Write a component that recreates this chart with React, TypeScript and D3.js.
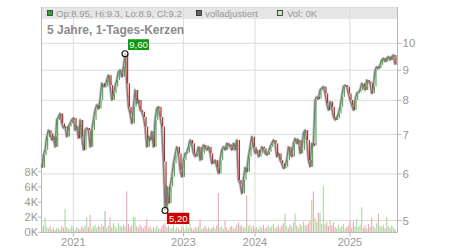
import React from 'react';
import * as d3 from 'd3';

// Daily-ish closes (sampled), index based x axis
const closes: number[] = [
  6.15, 6.45, 6.59, 6.93, 7.12, 7.03, 6.85, 6.94, 6.67, 7.41,
  7.50, 7.60, 7.31, 7.18, 7.22, 6.94, 7.22, 7.31, 7.41, 7.47,
  7.12, 7.22, 6.90, 7.41, 6.94, 6.59, 7.12, 7.18, 7.12, 6.67,
  7.12, 7.41, 7.70, 7.86, 7.75, 8.01, 8.55, 8.45, 8.45, 8.66,
  8.83, 8.49, 8.01, 8.22, 8.44, 8.66, 8.95, 9.01, 8.77, 9.12,
  9.60, 8.55, 7.80, 7.60, 7.31, 7.80, 8.33, 7.91, 8.01, 7.70,
  7.65, 7.50, 7.22, 6.67, 6.94, 6.85, 7.08, 6.67, 7.41, 7.75,
  7.80, 7.50, 7.22, 6.30, 5.20, 5.71, 5.35, 5.71, 5.93, 6.25,
  6.46, 6.67, 6.50, 6.09, 5.93, 6.33, 6.50, 6.52, 6.67, 6.85,
  6.76, 6.50, 6.42, 6.50, 6.67, 6.33, 6.50, 6.72, 6.67, 6.59,
  6.67, 6.50, 6.25, 6.27, 6.33, 6.17, 6.01, 6.33, 6.59, 6.67,
  6.59, 6.76, 6.74, 6.67, 6.59, 6.76, 6.59, 6.85, 5.86, 5.78,
  5.56, 5.86, 6.15, 6.05, 6.42, 6.67, 6.94, 6.67, 6.50, 6.59,
  6.42, 6.50, 6.67, 6.63, 6.50, 6.46, 6.54, 6.67, 6.76, 6.85,
  6.76, 6.42, 6.50, 6.33, 6.25, 6.13, 6.17, 6.33, 6.67, 6.50,
  6.42, 6.76, 6.89, 6.76, 6.85, 6.50, 6.59, 7.03, 7.12, 6.85,
  6.33, 6.17, 6.76, 6.70, 8.01, 8.11, 8.05, 8.33, 8.39, 8.44,
  8.22, 7.91, 7.70, 7.96, 7.80, 7.50, 7.41, 7.46, 7.60, 7.80,
  8.11, 8.44, 8.49, 8.44, 8.22, 8.01, 7.86, 7.70, 8.01, 8.22,
  8.27, 8.33, 8.55, 8.44, 8.33, 8.66, 8.61, 8.55, 8.22, 8.44,
  9.01, 9.12, 9.07, 9.19, 9.37, 9.43, 9.31, 9.43, 9.49, 9.37,
  9.49, 9.55, 9.20,
];
const firstOpen = 6.35;

// Volume in thousands
const volumes: number[] = [
  0.6, 0.9, 1.9, 0.7, 0.5, 0.8, 0.4, 0.7, 0.3, 0.6,
  0.5, 0.4, 0.8, 0.6, 3.1, 0.7, 0.4, 0.5, 0.9, 0.6,
  0.3, 0.7, 0.5, 0.4, 0.8, 0.6, 0.9, 2.0, 0.7, 2.3,
  0.5, 0.8, 1.0, 0.6, 0.9, 0.7, 1.1, 0.8, 2.8, 0.6,
  0.9, 2.0, 0.7, 1.2, 0.8, 0.5, 1.2, 0.9, 0.7, 1.0,
  0.8, 5.4, 1.1, 0.7, 0.9, 2.0, 2.0, 0.8, 0.6, 1.0,
  0.7, 0.5, 0.9, 1.75, 0.6, 0.8, 0.4, 0.7, 0.5, 0.9,
  0.6, 0.4, 0.8, 1.0, 1.2, 0.7, 0.9, 0.5, 0.6, 1.0,
  0.4, 0.7, 0.5, 0.3, 0.8, 0.6, 0.4, 0.9, 0.5, 1.1,
  0.6, 0.3, 0.7, 0.5, 0.8, 1.7, 0.4, 0.6, 0.9, 0.5,
  0.7, 0.4, 0.6, 0.8, 0.5, 0.9, 5.2, 0.6, 0.8, 0.4,
  1.5, 0.6, 0.3, 0.7, 0.9, 0.5, 0.6, 1.0, 1.3, 0.8,
  0.9, 0.6, 0.7, 4.9, 0.8, 1.0, 0.6, 0.9, 0.5, 0.7,
  0.4, 0.8, 0.6, 1.0, 0.5, 0.7, 0.9, 0.6, 0.8, 1.1,
  0.5, 0.7, 1.0, 0.6, 0.9, 1.2, 2.5, 0.8, 0.6, 1.0,
  0.7, 1.3, 2.5, 0.9, 0.6, 1.1, 0.8, 1.4, 1.0, 0.9,
  1.2, 1.5, 4.3, 5.4, 1.9, 1.3, 2.6, 2.6, 1.1, 6.1,
  1.0, 1.4, 0.8, 1.6, 0.9, 1.3, 0.7, 0.5, 1.0, 0.6,
  0.8, 1.1, 0.5, 0.7, 0.9, 1.5, 0.6, 1.4, 0.8, 1.8,
  0.7, 1.0, 3.3, 0.6, 0.9, 0.5, 1.1, 0.7, 1.9, 0.8,
  0.6, 1.2, 2.5, 0.9, 0.7, 1.0, 0.5, 2.0, 0.8, 0.6,
  0.9, 0.7, 0.4,
];

const yearLabels = ['2021', '2023', '2024', '2025'];
const yearStartIndex = [19, 85, 128, 185];
const priceTicks = [5, 6, 7, 8, 9, 10];
const volumeTicks = [0, 2, 4, 6, 8];
const titleText = '5 Jahre, 1-Tages-Kerzen';
const legendLabels = ['Op:8.95, Hi:9.3, Lo:8.9, Cl:9.2', 'volladjustiert', 'Vol: 0K'];

const FONT = '"Liberation Sans", Arial, sans-serif';

export default function App() {
  const W = 450, H = 250;
  const left = 41, right = 397.5, top = 7, bottom = 232.5;

  const x = d3.scaleLinear().domain([0, closes.length - 1]).range([41.7, 395]);
  const y = d3.scaleLog().domain([5, 10]).range([220.5, 43.3]);
  const yv = d3.scaleLinear().domain([0, 8]).range([232.3, 171.7]);

  const opens = closes.map((c, i) => (i === 0 ? firstOpen : closes[i - 1]));
  const dir = closes.map((c, i) => (c > opens[i] ? 1 : c < opens[i] ? -1 : 0));

  const line = d3.line<number>().x((d, i) => x(i)).y((d) => y(d));
  const path = line(closes) || '';

  const iMax = d3.maxIndex(closes);
  const iMin = d3.minIndex(closes);
  const fmt = (v: number) => v.toFixed(2).replace('.', ',');

  const grid = '#dcdcdc';
  const axisCol = '#b8b8b8';
  const txt = '#999';

  return (
    <svg width={W} height={H} style={{ position: 'fixed', left: 0, top: 0 }} fontFamily={FONT}>
      <rect x={0} y={0} width={W} height={H} fill="#fff" />
      {/* legend band */}
      <rect x={left} y={top} width={right - left} height={12} fill="#e6e6e6" />
      {/* horizontal gridlines */}
      {priceTicks.map((t) => (
        <line key={'h' + t} x1={left} x2={right} y1={y(t)} y2={y(t)} stroke={grid} strokeWidth={1} />
      ))}
      {/* vertical gridlines */}
      {yearStartIndex.map((idx, k) => (
        <line key={'v' + k} x1={x(idx)} x2={x(idx)} y1={top} y2={bottom} stroke={grid} strokeWidth={1} />
      ))}
      {/* frame */}
      <line x1={left} x2={right} y1={top + 0.5} y2={top + 0.5} stroke={grid} />
      <line x1={left + 0.5} x2={left + 0.5} y1={top} y2={bottom} stroke={axisCol} />

      {/* volume bars */}
      {volumes.map((v, i) => (
        <rect
          key={'vb' + i}
          x={x(i) - 0.5}
          width={1.1}
          y={yv(v)}
          height={yv(0) - yv(v)}
          fill={dir[i] > 0 ? '#a8d9a2' : dir[i] < 0 ? '#f0a6b0' : '#b3b3b3'}
        />
      ))}

      {/* price line halo */}
      <path d={path} fill="none" stroke="#c4c4c4" strokeWidth={2.8} strokeLinejoin="round" />
      {/* candles */}
      {closes.map((c, i) => {
        const o = opens[i];
        const y1 = y(Math.max(o, c));
        const y2 = y(Math.min(o, c));
        return (
          <rect
            key={'c' + i}
            x={x(i) + 0.5}
            width={1}
            y={y1}
            height={Math.max(1, y2 - y1)}
            fill={dir[i] >= 0 ? '#2fa82f' : '#c00000'}
          />
        );
      })}
      <path d={path} fill="none" stroke="#7a7a7a" strokeWidth={1.2} strokeLinejoin="round" />

      {/* axes */}
      <line x1={left} x2={right} y1={bottom} y2={bottom} stroke={axisCol} />
      <line x1={right} x2={right} y1={top} y2={bottom} stroke={axisCol} />
      {priceTicks.map((t) => (
        <g key={'pt' + t}>
          <line x1={right} x2={right + 4} y1={y(t)} y2={y(t)} stroke={axisCol} />
          <text x={right + 5} y={y(t)} dy="0.36em" fontSize={11.5} fill={txt}>
            {t}
          </text>
        </g>
      ))}
      {volumeTicks.map((t) => (
        <g key={'vt' + t}>
          <line x1={left - 3} x2={left} y1={yv(t)} y2={yv(t)} stroke={axisCol} />
          <text x={left - 3} y={yv(t)} dy="0.36em" fontSize={11} fill={txt} textAnchor="end">
            {t + 'K'}
          </text>
        </g>
      ))}
      {yearStartIndex.map((idx, k) => (
        <g key={'yt' + k}>
          <line x1={x(idx)} x2={x(idx)} y1={bottom} y2={bottom + 4} stroke={axisCol} />
          <text x={x(idx)} y={246} fontSize={11} fill={txt} textAnchor="middle">
            {yearLabels[k]}
          </text>
        </g>
      ))}

      {/* title */}
      <text x={47} y={34} fontSize={12} fontWeight="bold" fill="#8c8c8c">
        {titleText}
      </text>

      {/* legend */}
      <rect x={47.5} y={10.5} width={5} height={5} fill="#2fa82f" stroke="#333" strokeWidth={0.8} />
      <text x={56} y={17} fontSize={9.5} fill={txt}>{legendLabels[0]}</text>
      <rect x={196.5} y={10.5} width={5} height={5} fill="#666" stroke="#222" strokeWidth={0.8} />
      <text x={205} y={17} fontSize={9.5} fill={txt}>{legendLabels[1]}</text>
      <rect x={277.5} y={10.5} width={5} height={5} fill="#c8e8c4" stroke="#222" strokeWidth={0.8} />
      <text x={287} y={17} fontSize={9.5} fill={txt}>{legendLabels[2]}</text>

      {/* max marker */}
      <circle cx={x(iMax)} cy={y(closes[iMax])} r={3} fill="#fff" fillOpacity={0.7} stroke="#111" strokeWidth={1.1} />
      <rect x={x(iMax) + 3} y={y(closes[iMax]) - 14.5} width={21} height={10.8} fill="#0a9a0a" />
      <text x={x(iMax) + 13.5} y={y(closes[iMax]) - 5.8} fontSize={9.6} fill="#fff" textAnchor="middle">
        {fmt(closes[iMax])}
      </text>

      {/* min marker */}
      <circle cx={x(iMin)} cy={y(closes[iMin])} r={3} fill="#fff" fillOpacity={0.7} stroke="#111" strokeWidth={1.1} />
      <rect x={x(iMin) + 2} y={y(closes[iMin]) + 2.3} width={22.3} height={11.3} fill="#cc0000" />
      <text x={x(iMin) + 13.2} y={y(closes[iMin]) + 11.3} fontSize={9.6} fill="#fff" textAnchor="middle">
        {fmt(closes[iMin])}
      </text>
    </svg>
  );
}
